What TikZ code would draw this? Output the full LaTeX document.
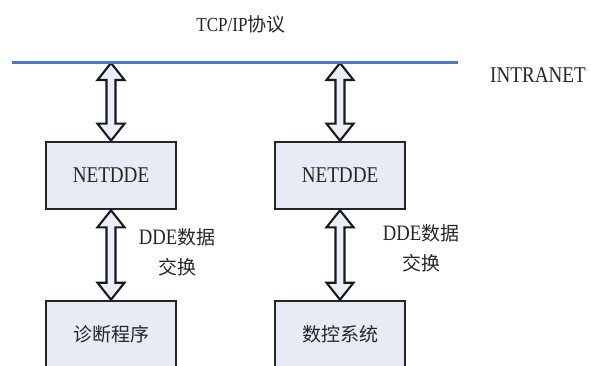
\documentclass[tikz,border=0pt]{standalone}
\usepackage{fontspec}
\setmainfont{Liberation Serif}[FakeStretch=0.85]
\newfontfamily\cjk{Noto Sans CJK SC}
\usetikzlibrary{calc}
\definecolor{boxfill}{HTML}{E6EBF5}
\definecolor{arrfill}{HTML}{E9EEF7}
\definecolor{netblue}{HTML}{4A7BC4}
\definecolor{txt}{HTML}{262626}
\tikzset{
  box/.style={draw=black!85, line width=2.6pt, fill=boxfill, minimum width=130pt, minimum height=67pt, inner sep=0pt, text=txt, font=\fontsize{22.5}{26}\selectfont},
  arr/.style={draw=black!90, line width=2.1pt, fill=arrfill, line join=miter},
  lbl/.style={text=txt, align=center, inner sep=0pt, font=\fontsize{22}{30}\selectfont},
}
\newcommand\blockarrow[2]{%
  \draw[arr] let \p1=(#1), \p2=(#2) in
    (\x1,\y1) -- (\x1+13.5pt,\y1-17pt) -- (\x1+4.5pt,\y1-17pt) -- (\x1+4.5pt,\y2+17pt)
    -- (\x1+13.5pt,\y2+17pt) -- (\x1,\y2) -- (\x1-13.5pt,\y2+17pt) -- (\x1-4.5pt,\y2+17pt)
    -- (\x1-4.5pt,\y1-17pt) -- (\x1-13.5pt,\y1-17pt) -- cycle;}
\begin{document}
\begin{tikzpicture}[x=1pt,y=-1pt]
\useasboundingbox (0,0) rectangle (591,366);
\clip (0,0) rectangle (591,366);
\fill[white] (0,0) rectangle (591,366);

\node[text=txt, inner sep=0pt, font=\fontsize{20}{24}\selectfont] (tcp) at (241,24) {TCP/IP{\cjk\fontsize{19}{24}\selectfont 协议}};
\node[text=txt, inner sep=0pt, font=\fontsize{22.5}{26}\selectfont] (intranet) at (538,75) {INTRANET};

\coordinate (lineL) at (12,63);
\coordinate (lineR) at (458,63);

\node[box] (net1) at (111,175.5) {NETDDE};
\node[box] (net2) at (340,175.5) {NETDDE};
\node[box, font=\cjk\fontsize{19}{24}\selectfont] (diag) at (111,334.5) {诊断程序};
\node[box, font=\cjk\fontsize{19}{24}\selectfont] (cnc) at (340,334.5) {数控系统};

\coordinate (t1) at (net1.north |- lineL);
\coordinate (t2) at (net2.north |- lineL);

\blockarrow{t1}{net1.north}
\blockarrow{t2}{net2.north}
\blockarrow{net1.south}{diag.north}
\blockarrow{net2.south}{cnc.north}

\draw[netblue, line width=3pt] (lineL) -- (lineR);

\node[lbl] (lab1) at (177,252) {DDE{\cjk\fontsize{19}{30}\selectfont 数据}\\{\cjk\fontsize{19}{30}\selectfont 交换}};
\node[lbl] (lab2) at (421,248) {DDE{\cjk\fontsize{19}{30}\selectfont 数据}\\{\cjk\fontsize{19}{30}\selectfont 交换}};
\end{tikzpicture}
\end{document}
